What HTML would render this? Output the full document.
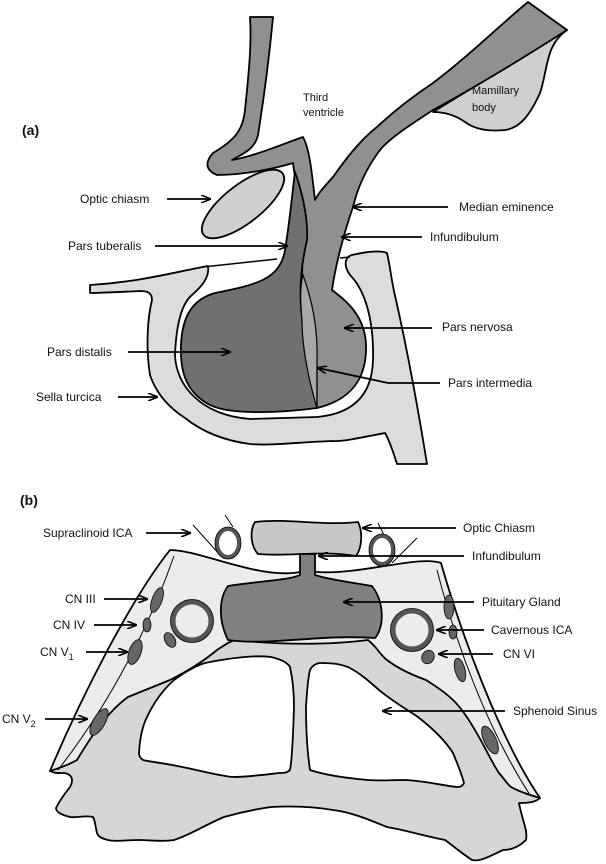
<!DOCTYPE html>
<html><head><meta charset="utf-8"><style>
html,body{margin:0;padding:0;background:#fff}
svg{display:block}
text{font-family:"Liberation Sans",sans-serif;font-size:12px;fill:#111}
</style></head><body>
<svg width="606" height="864" viewBox="0 0 606 864" xmlns="http://www.w3.org/2000/svg">
<defs><marker id="ah" markerWidth="10" markerHeight="8" refX="9" refY="4" orient="auto" markerUnits="userSpaceOnUse"><path d="M0,0 L10,4 L0,8" fill="none" stroke="#000" stroke-width="1.6"/></marker></defs>
<g stroke="#000" stroke-width="1.8" stroke-linejoin="round">
<!-- sella turcica -->
<path d="M90,285 C140,282 175,272 208,266 C210,278 200,288 192,295 C180,305 176,330 175,355 C176,385 200,415 250,419 L317,417 C350,414 372,398 373,360 C374,320 365,290 350,275 C343,265 345,257 352,255 C365,252 380,250 387,253 C390,265 392,285 396,300 C405,340 415,390 427,464 L397,464 C392,448 388,438 385,433 C360,438 340,442 333,441 C300,442 270,446 250,444 C220,440 200,430 185,418 C165,405 155,390 150,375 C146,350 147,320 152,300 C152,293 148,291 140,291 C120,292 100,293 90,293 Z" fill="#dcdcdc"/>
<!-- mamillary body -->
<path d="M433,112 L567,30 C545,45 548,70 540,93 C530,115 520,128 505,130 C485,132 473,128 465,122 C455,115 445,112 433,112 Z" fill="#cfcfcf"/>
<!-- stalk / neurohypophysis -->
<path d="M250,17 L273,17 C268,70 262,110 258,135 C255,150 240,155 232,160 C255,156 280,145 303,137 C310,150 312,175 315,200 C320,190 328,183 333,177 C345,160 360,140 377,127 C395,110 415,95 433,83 C470,55 500,25 528,2 L567,30 C520,60 470,90 433,110 C410,125 390,138 380,150 C365,170 357,190 353,207 C345,230 336,262 332,290 C345,300 365,315 366,345 C367,380 350,400 317,408 C305,340 300,290 303,240 C300,200 295,180 293,163 C270,170 240,175 217,175 C205,170 205,162 213,153 C235,140 243,130 245,110 C248,80 252,45 250,17 Z" fill="#909090"/>
<!-- pars distalis + tuberalis -->
<path d="M295,172 C305,200 308,225 307,240 C300,270 298,300 304,330 C310,360 314,390 317,408 C280,413 230,415 210,405 C185,392 180,370 181,345 C182,320 190,300 215,293 C255,285 280,280 285,250 C290,220 292,195 295,172 Z" fill="#707070"/>
<!-- pars intermedia -->
<path d="M303,275 C312,300 318,330 317,360 L317,408 C310,385 302,350 302,320 C300,300 300,285 303,275 Z" fill="#a8a8a8" stroke-width="1.2"/>
<line x1="317" y1="408" x2="317" y2="365" stroke-width="1.2"/>
<!-- optic chiasm -->
<ellipse cx="243" cy="204" rx="50" ry="19" transform="rotate(-38 243 204)" fill="#cfcfcf"/>
</g>
<path d="M203,267 L277,259 M340,258 L350,257" stroke="#000" stroke-width="1.5"/>
<g stroke="#000" stroke-width="1.8" fill="none" marker-end="url(#ah)">
<line x1="167" y1="199" x2="210" y2="199"/>
<line x1="155" y1="246" x2="287" y2="246"/>
<line x1="128" y1="352" x2="230" y2="352"/>
<line x1="118" y1="397" x2="157" y2="397"/>
<line x1="448" y1="207" x2="353" y2="207"/>
<line x1="422" y1="237" x2="342" y2="237"/>
<line x1="432" y1="328" x2="345" y2="328"/>
<polyline points="440,383 388,383 318,368"/>
</g>
<text x="22" y="135" style="font-weight:bold;font-size:14px">(a)</text>
<text x="80" y="203">Optic chiasm</text>
<text x="68" y="250">Pars tuberalis</text>
<text x="47" y="356">Pars distalis</text>
<text x="36" y="401">Sella turcica</text>
<text x="459" y="211">Median eminence</text>
<text x="430" y="241">Infundibulum</text>
<text x="442" y="331">Pars nervosa</text>
<text x="448" y="387">Pars intermedia</text>
<text x="303" y="101" style="font-size:11px">Third</text>
<text x="303" y="116" style="font-size:11px">ventricle</text>
<text x="472" y="94" style="font-size:11px">Mamillary</text>
<text x="472" y="111" style="font-size:11px">body</text>

<!-- (b) -->
<text x="20" y="505" style="font-weight:bold;font-size:14px">(b)</text>
<g stroke="#000" stroke-width="1.8" stroke-linejoin="round">
<path d="M170,550 C200,550 260,580 300,572 L317,572 C360,575 420,555 441,563 C460,630 500,740 540,798 C530,800 520,796 511,787 L66,770 C60,775 55,773 50,771 C80,700 130,600 170,550 Z" fill="#ececec"/>
<path d="M50,771 C60,768 70,764 77,760 C95,730 110,710 128,697 C150,688 160,684 170,680 C190,670 205,660 217,650 C225,645 230,641 236,640 C280,645 330,645 368,640 C378,648 380,655 387,660 C400,670 415,676 426,680 C445,692 455,700 464,713 C480,735 490,760 499,773 C505,780 508,785 511,787 C520,792 530,795 540,798 C535,803 525,803 519,803 C522,820 528,830 526,840 C518,848 510,850 503,850 C490,856 480,862 472,860 C460,852 452,845 445,840 C420,835 405,830 387,827 C365,818 350,812 333,810 C310,806 290,806 271,807 C250,810 238,813 224,817 C205,825 190,835 174,840 C160,842 150,840 139,840 C125,840 115,842 108,840 C100,838 98,836 97,833 C95,825 95,820 93,817 C85,815 78,818 70,817 C62,815 56,812 56,808 C60,800 66,792 70,787 C74,780 72,774 64,773 C58,773 54,773 50,771 Z" fill="#d6d6d6"/>
<path d="M139,753 C140,735 143,725 147,717 C155,700 165,688 174,680 C185,672 195,666 205,663 C230,658 255,655 271,657 C280,659 287,662 290,667 C294,685 294,700 294,707 C293,740 292,760 290,770 C287,773 283,773 279,773 C262,775 248,777 232,777 C215,775 198,770 182,767 C165,763 150,762 143,760 C140,758 139,756 139,753 Z" fill="#fff"/>
<path d="M310,670 C312,666 316,663 321,663 C333,663 340,664 348,667 C360,673 370,682 379,690 C395,703 408,710 418,717 C432,728 445,740 453,753 C458,765 462,775 464,783 C462,787 459,787 457,787 C440,785 425,781 406,780 C390,780 380,781 368,780 C345,778 325,775 310,770 C307,750 306,730 306,707 C307,690 308,678 310,670 Z" fill="#fff"/>
<path d="M255,522 C290,518 320,526 358,522 C363,532 362,548 356,556 C320,550 290,557 258,554 C250,545 250,530 255,522 Z" fill="#c8c8c8"/>
<path d="M300,554 L315,554 L315,575 C330,580 350,582 372,586 C385,603 384,628 375,638 C320,634 270,646 228,640 C218,620 219,598 228,586 C260,581 290,580 300,575 Z" fill="#808080"/>
</g>
<g fill="none" stroke="#000" stroke-width="1">
<path d="M174,556 C155,610 120,690 58,770"/><path d="M437,570 C455,640 485,725 530,795"/>
<line x1="193" y1="525" x2="220" y2="555"/><line x1="225" y1="515" x2="233" y2="527"/>
<line x1="378" y1="523" x2="385" y2="537"/><line x1="417" y1="538" x2="392" y2="563"/>
</g>
<g fill="none">
<ellipse cx="228" cy="543" rx="11" ry="14" stroke="#555" stroke-width="4"/><ellipse cx="228" cy="543" rx="13" ry="16" stroke="#000" stroke-width="0.8"/>
<ellipse cx="382" cy="550" rx="11" ry="14" stroke="#555" stroke-width="4"/><ellipse cx="382" cy="550" rx="13" ry="16" stroke="#000" stroke-width="0.8"/>
<circle cx="192" cy="621" r="19" stroke="#555" stroke-width="5"/><circle cx="192" cy="621" r="21.5" stroke="#000" stroke-width="0.8"/>
<circle cx="412" cy="630" r="19" stroke="#555" stroke-width="5"/><circle cx="412" cy="630" r="21.5" stroke="#000" stroke-width="0.8"/>
</g>
<g fill="#666" stroke="#000" stroke-width="0.8">
<ellipse cx="157" cy="600" rx="5" ry="13" transform="rotate(20 157 600)"/>
<ellipse cx="147" cy="625" rx="4" ry="7"/>
<ellipse cx="135" cy="652" rx="6" ry="13" transform="rotate(20 135 652)"/>
<ellipse cx="170" cy="640" rx="5" ry="8" transform="rotate(-30 170 640)"/>
<ellipse cx="449" cy="607" rx="5" ry="12"/>
<ellipse cx="453" cy="632" rx="4" ry="7"/>
<ellipse cx="428" cy="657" rx="6" ry="7" transform="rotate(30 428 657)"/>
<ellipse cx="460" cy="670" rx="5" ry="12" transform="rotate(-15 460 670)"/>
<ellipse cx="490" cy="740" rx="6" ry="15" transform="rotate(-25 490 740)"/>
<ellipse cx="99" cy="722" rx="6" ry="15" transform="rotate(30 99 722)"/>
</g>
<g stroke="#000" stroke-width="1.8" fill="none" marker-end="url(#ah)">
<line x1="146" y1="533" x2="190" y2="533"/>
<line x1="104" y1="599" x2="147" y2="599"/>
<line x1="94" y1="625" x2="136" y2="625"/>
<line x1="86" y1="652" x2="127" y2="652"/>
<line x1="45" y1="719" x2="87" y2="719"/>
<line x1="456" y1="528" x2="363" y2="528"/>
<line x1="464" y1="556" x2="319" y2="556"/>
<line x1="474" y1="602" x2="344" y2="602"/>
<line x1="484" y1="630" x2="437" y2="630"/>
<line x1="493" y1="654" x2="439" y2="654"/>
<line x1="505" y1="711" x2="383" y2="711"/>
</g>
<text x="43" y="537">Supraclinoid ICA</text>
<text x="65" y="603">CN III</text>
<text x="53" y="629">CN IV</text>
<text x="40" y="656">CN V<tspan dy="4" style="font-size:9px">1</tspan></text>
<text x="2" y="723">CN V<tspan dy="4" style="font-size:9px">2</tspan></text>
<text x="463" y="532">Optic Chiasm</text>
<text x="472" y="560">Infundibulum</text>
<text x="482" y="606">Pituitary Gland</text>
<text x="491" y="634">Cavernous ICA</text>
<text x="503" y="658">CN VI</text>
<text x="513" y="715">Sphenoid Sinus</text>
</svg>
</body></html>
